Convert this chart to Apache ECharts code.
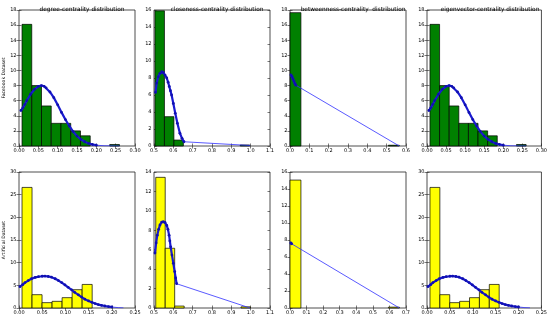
<!DOCTYPE html>
<html>
<head>
<meta charset="utf-8">
<script src="https://cdn.jsdelivr.net/npm/echarts@6/dist/echarts.min.js"></script>
<style>html,body{margin:0;padding:0;background:#fff}#c{width:550px;height:320px}</style>
</head>
<body>
<div id="c"></div>
<script>
// ---------- DATA ----------
const titles = ['degree-centrality distribution', 'closeness-centrality distribution', 'betweenness-centrality  distribution', 'eigenvector-centrality distribution'];
const rowNames = ['Facebook Dataset', 'Artificial Dataset'];

// Facebook dataset histograms (bin edges + heights)
const degFbEdges = [0.0078, 0.0330, 0.0582, 0.0834, 0.1086, 0.1338, 0.1590, 0.1842, 0.2094, 0.2346, 0.2598];
const degFbCounts = [16.1, 8.0, 5.3, 3.0, 3.0, 2.0, 1.35, 0, 0, 0.2];
const closeFbEdges = [0.505, 0.554, 0.603, 0.652, 0.701, 0.750, 0.799, 0.848, 0.897, 0.946, 0.995];
const closeFbCounts = [15.9, 3.45, 0.7, 0, 0, 0, 0, 0, 0, 0.12];
const betwFbEdges = [0.0, 0.0565, 0.113, 0.1695, 0.226, 0.2825, 0.339, 0.3955, 0.452, 0.5085, 0.565];
const betwFbCounts = [17.65, 0, 0, 0, 0, 0, 0, 0, 0, 0.1];
const eigFbEdges = [0.0078, 0.0330, 0.0582, 0.0834, 0.1086, 0.1338, 0.1590, 0.1842, 0.2094, 0.2346, 0.2598];
const eigFbCounts = [16.1, 8.0, 5.3, 3.0, 3.0, 2.0, 1.35, 0, 0, 0.2];

// Artificial dataset histograms
const degArtEdges = [0.0065, 0.0281, 0.0497, 0.0713, 0.0929, 0.1145, 0.1361, 0.1577, 0.1793, 0.2009, 0.2225];
const degArtCounts = [26.6, 2.94, 1.18, 1.47, 2.28, 4.04, 5.2, 0, 0, 0];
const closeArtEdges = [0.509, 0.558, 0.607, 0.656, 0.705, 0.754, 0.803, 0.852, 0.901, 0.950, 0.999];
const closeArtCounts = [13.45, 6.15, 0.2, 0, 0, 0, 0, 0, 0, 0.12];
const betwArtEdges = [0.0, 0.066, 0.132, 0.198, 0.264, 0.33, 0.396, 0.462, 0.528, 0.594, 0.66];
const betwArtCounts = [15.05, 0, 0, 0, 0, 0, 0, 0, 0, 0.1];
const eigArtEdges = [0.0065, 0.0281, 0.0497, 0.0713, 0.0929, 0.1145, 0.1361, 0.1577, 0.1793, 0.2009, 0.2225];
const eigArtCounts = [26.6, 2.94, 1.18, 1.47, 2.28, 4.04, 5.2, 0, 0, 0];

// Fitted curves: dense (dotted) part and sparse tail
const degFbCurve = [[0.005,4.7],[0.01,5.05],[0.015,5.5],[0.02,6.0],[0.03,6.85],[0.04,7.5],[0.05,7.9],[0.058,8.0],[0.065,7.9],[0.07,7.7],[0.08,7.15],[0.09,6.4],[0.10,5.45],[0.11,4.45],[0.12,3.5],[0.13,2.65],[0.14,1.9],[0.15,1.32],[0.16,0.88],[0.17,0.56],[0.18,0.34],[0.19,0.2],[0.20,0.11]];
const degFbTail = [[0.20,0.11],[0.22,0.03],[0.26,0.0]];
const closeFbCurve = [[0.508,6.3],[0.514,7.4],[0.522,8.15],[0.531,8.55],[0.540,8.75],[0.548,8.65],[0.557,8.35],[0.566,8.0],[0.573,7.5],[0.579,7.0],[0.585,6.5],[0.591,6.0],[0.600,5.0],[0.610,3.85],[0.621,2.67],[0.634,1.5],[0.645,0.9],[0.655,0.5]];
const closeFbTail = [[0.655,0.5],[0.997,0.06]];
const betwFbCurve = [[0.005,9.4],[0.01,9.2],[0.015,8.9],[0.02,8.6],[0.025,8.3],[0.03,8.05]];
const betwFbTail = [[0.03,8.05],[0.565,0.0]];
const eigFbCurve = [[0.005,4.7],[0.01,5.05],[0.015,5.5],[0.02,6.0],[0.03,6.85],[0.04,7.5],[0.05,7.9],[0.058,8.0],[0.065,7.9],[0.07,7.7],[0.08,7.15],[0.09,6.4],[0.10,5.45],[0.11,4.45],[0.12,3.5],[0.13,2.65],[0.14,1.9],[0.15,1.32],[0.16,0.88],[0.17,0.56],[0.18,0.34],[0.19,0.2],[0.20,0.11]];
const eigFbTail = [[0.20,0.11],[0.22,0.03],[0.26,0.0]];

const degArtCurve = [[0.002,4.7],[0.008,5.15],[0.013,5.6],[0.02,6.05],[0.027,6.45],[0.035,6.75],[0.042,6.9],[0.05,7.0],[0.056,7.05],[0.063,6.95],[0.07,6.8],[0.078,6.45],[0.085,6.05],[0.092,5.6],[0.099,5.1],[0.106,4.55],[0.1135,4.0],[0.12,3.45],[0.128,2.9],[0.135,2.4],[0.142,1.95],[0.15,1.55],[0.157,1.25],[0.164,0.98],[0.171,0.75],[0.178,0.58],[0.185,0.44],[0.193,0.32],[0.2,0.22]];
const degArtTail = [[0.2,0.22],[0.214,0.08],[0.225,0.02]];
const closeArtCurve = [[0.505,5.65],[0.511,6.7],[0.517,7.5],[0.524,8.1],[0.531,8.55],[0.540,8.85],[0.548,8.9],[0.557,8.8],[0.566,8.5],[0.572,8.1],[0.578,7.5],[0.582,6.9],[0.586,6.3],[0.593,5.45],[0.600,4.6],[0.607,3.75],[0.612,3.1],[0.617,2.5]];
const closeArtTail = [[0.617,2.5],[0.997,0.0]];
const betwArtCurve = [[0.005,7.65],[0.01,7.55]];
const betwArtTail = [[0.01,7.55],[0.66,0.0]];
const eigArtCurve = [[0.002,4.7],[0.008,5.15],[0.013,5.6],[0.02,6.05],[0.027,6.45],[0.035,6.75],[0.042,6.9],[0.05,7.0],[0.056,7.05],[0.063,6.95],[0.07,6.8],[0.078,6.45],[0.085,6.05],[0.092,5.6],[0.099,5.1],[0.106,4.55],[0.1135,4.0],[0.12,3.45],[0.128,2.9],[0.135,2.4],[0.142,1.95],[0.15,1.55],[0.157,1.25],[0.164,0.98],[0.171,0.75],[0.178,0.58],[0.185,0.44],[0.193,0.32],[0.2,0.22]];
const eigArtTail = [[0.2,0.22],[0.214,0.08],[0.225,0.02]];

// axis ranges [xmin, xmax, xstep, xdecimals] and [ymax, ystep]
const xRanges = [[0,0.3,0.05,2],[0.5,1.1,0.1,1],[0,0.6,0.1,1],[0,0.3,0.05,2],[0,0.25,0.05,2],[0.5,1.1,0.1,1],[0,0.7,0.1,1],[0,0.25,0.05,2]];
const yRanges = [[18,2],[16,2],[18,2],[18,2],[30,5],[14,2],[16,2],[30,5]];

// ---------- BUILD ----------
const panels = [
  {edges: degFbEdges, counts: degFbCounts, curve: degFbCurve, tail: degFbTail},
  {edges: closeFbEdges, counts: closeFbCounts, curve: closeFbCurve, tail: closeFbTail},
  {edges: betwFbEdges, counts: betwFbCounts, curve: betwFbCurve, tail: betwFbTail},
  {edges: eigFbEdges, counts: eigFbCounts, curve: eigFbCurve, tail: eigFbTail},
  {edges: degArtEdges, counts: degArtCounts, curve: degArtCurve, tail: degArtTail},
  {edges: closeArtEdges, counts: closeArtCounts, curve: closeArtCurve, tail: closeArtTail},
  {edges: betwArtEdges, counts: betwArtCounts, curve: betwArtCurve, tail: betwArtTail},
  {edges: eigArtEdges, counts: eigArtCounts, curve: eigArtCurve, tail: eigArtTail}
];
const colLeft = [19, 154, 290, 427];
const rowTop = [10, 172];
const W = 116, H = 136;
const FONT = 'DejaVu Sans';
const LBL = 5;

const grid = [], xAxis = [], yAxis = [], series = [], title = [];
panels.forEach((p, i) => {
  const r = Math.floor(i / 4), c = i % 4;
  grid.push({left: colLeft[c], top: rowTop[r], width: W, height: H, show: true, borderColor: '#222', borderWidth: 0.8, backgroundColor: '#fff'});
  const [xmin, xmax, xstep, dec] = xRanges[i];
  const [ymax, ystep] = yRanges[i];
  const tick = {show: true, inside: true, length: 2.5, lineStyle: {color: '#222', width: 0.6}};
  xAxis.push({gridIndex: i, type: 'value', min: xmin, max: xmax, interval: xstep, position: 'bottom',
    axisLine: {show: false}, axisTick: tick, splitLine: {show: false},
    axisLabel: {fontSize: LBL, fontFamily: FONT, color: '#000', margin: 2.5, showMinLabel: true, showMaxLabel: true,
      formatter: v => v.toFixed(dec)}});
  yAxis.push({gridIndex: i, type: 'value', min: 0, max: ymax, interval: ystep, position: 'left',
    axisLine: {show: false}, axisTick: tick, splitLine: {show: false},
    name: c === 0 ? rowNames[r] : '', nameLocation: 'middle', nameGap: 9, nameRotate: 90,
    nameTextStyle: {fontSize: 4.6, fontFamily: FONT, color: '#000'},
    axisLabel: {fontSize: LBL, fontFamily: FONT, color: '#000', margin: 2.5, showMinLabel: true, showMaxLabel: true}});
  if (r === 0) {
    title.push({text: titles[c], left: colLeft[c] + W / 2, top: 1, textAlign: 'center',
      textStyle: {fontSize: 5.8, fontWeight: 'normal', fontFamily: FONT, color: '#000'}});
  }
});
// top / right tick-only axes
panels.forEach((p, i) => {
  const [xmin, xmax, xstep] = xRanges[i];
  const [ymax, ystep] = yRanges[i];
  const tick = {show: true, inside: true, length: 2.5, lineStyle: {color: '#222', width: 0.6}};
  xAxis.push({gridIndex: i, type: 'value', min: xmin, max: xmax, interval: xstep, position: 'top',
    axisLine: {show: false}, axisTick: tick, axisLabel: {show: false}, splitLine: {show: false}});
  yAxis.push({gridIndex: i, type: 'value', min: 0, max: ymax, interval: ystep, position: 'right',
    axisLine: {show: false}, axisTick: tick, axisLabel: {show: false}, splitLine: {show: false}});
});

panels.forEach((p, i) => {
  const fill = i < 4 ? '#008000' : '#ffff00';
  const bars = p.counts.map((h, k) => [p.edges[k], p.edges[k + 1], h]).filter(d => d[2] > 0);
  series.push({
    type: 'custom', xAxisIndex: i, yAxisIndex: i, data: bars, encode: {x: [0, 1], y: 2},
    renderItem: (params, api) => {
      const a = api.coord([api.value(0), 0]);
      const b = api.coord([api.value(1), api.value(2)]);
      return {type: 'rect', shape: {x: a[0], y: b[1], width: b[0] - a[0], height: a[1] - b[1]},
        style: {fill: fill, stroke: '#000', lineWidth: 0.7}};
    }
  });
  series.push({type: 'line', xAxisIndex: i, yAxisIndex: i, data: p.tail, showSymbol: false,
    lineStyle: {color: '#3030ff', width: 0.8}, z: 3});
  series.push({type: 'line', xAxisIndex: i, yAxisIndex: i, data: p.curve, symbol: 'circle', symbolSize: 2.8,
    itemStyle: {color: '#1010b0'}, lineStyle: {color: '#1a1ad0', width: 2.2}, z: 4});
});

const chart = echarts.init(document.getElementById('c'), null, {renderer: 'canvas'});
chart.setOption({animation: false, backgroundColor: '#fff', title, grid, xAxis, yAxis, series});
</script>
</body>
</html>
